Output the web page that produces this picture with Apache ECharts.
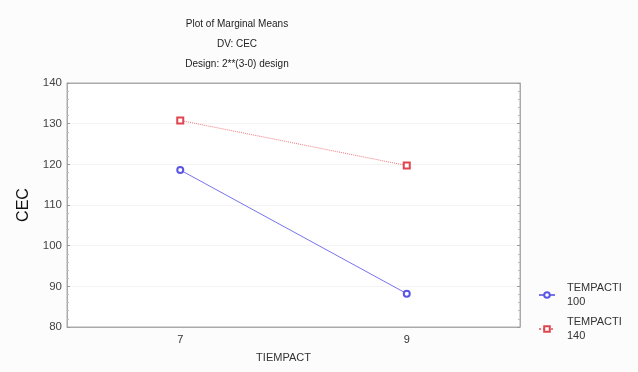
<!DOCTYPE html>
<html><head><meta charset="utf-8">
<script src="https://cdn.jsdelivr.net/npm/echarts@6/dist/echarts.min.js"></script>
<style>html,body{margin:0;padding:0;background:#fcfcfc}#c{width:638px;height:372px}</style>
</head><body><div id="c"></div>
<script>
var categories = ['7', '9'];
var seriesNames = ['TEMPACTI 100', 'TEMPACTI 140'];
var temp100 = [118.6, 88.2];
var temp140 = [130.8, 119.7];
var yTicks = [80, 90, 100, 110, 120, 130, 140];

var chart = echarts.init(document.getElementById('c'));
var font = 'Liberation Sans, Arial, sans-serif';
function t(txt, top) {
  return {text: txt, left: 232, top: top, textAlign: 'center',
    textStyle: {fontSize: 10, fontWeight: 'normal', color: '#222', fontFamily: font}};
}
chart.setOption({
  backgroundColor: '#fcfcfc',
  animation: false,
  title: [t('Plot of Marginal Means', 14), t('DV: CEC', 34), t('Design: 2**(3-0) design', 54)],
  grid: {left: 67, top: 83, width: 453, height: 244, show: true, backgroundColor: '#fff', borderColor: '#aaa', borderWidth: 1},
  legend: {
    orient: 'vertical', left: 533, top: 276, itemGap: 6, itemWidth: 16, itemHeight: 7,
    data: seriesNames,
    formatter: function (n) { return n.replace(' ', '\n'); },
    textStyle: {fontSize: 11, color: '#333', fontFamily: font, lineHeight: 14, padding: [0, 0, 0, 7]}
  },
  xAxis: [
    {type: 'category', data: categories, boundaryGap: true, position: 'bottom',
     name: 'TIEMPACT', nameLocation: 'middle', nameGap: 25,
     nameTextStyle: {fontSize: 11, color: '#333', fontFamily: font, padding: [0, 20, 0, 0]},
     axisLine: {lineStyle: {color: '#aaa'}},
     axisTick: {alignWithLabel: true, inside: true, length: 3, lineStyle: {color: '#999'}},
     axisLabel: {fontSize: 11, color: '#333', fontFamily: font, margin: 7},
     splitLine: {show: false}},
    {type: 'category', data: categories, boundaryGap: true, position: 'top',
     axisLine: {lineStyle: {color: '#aaa'}},
     axisTick: {alignWithLabel: true, inside: true, length: 3, lineStyle: {color: '#999'}},
     axisLabel: {show: false}}
  ],
  yAxis: [
    {type: 'value', min: 80, max: 140, interval: 10,
     name: 'CEC', nameLocation: 'middle', nameGap: 35, nameRotate: 90,
     nameTextStyle: {fontSize: 16, color: '#111', fontFamily: font},
     axisLine: {show: true, lineStyle: {color: '#aaa'}},
     axisTick: {show: true, inside: true, length: 3, lineStyle: {color: '#999'}},
     minorTick: {show: true, splitNumber: 5, length: 2, lineStyle: {color: '#bbb'}},
     axisLabel: {fontSize: 11.5, color: '#444', fontFamily: font, margin: 5,
       formatter: function (v) { return yTicks.indexOf(v) >= 0 ? String(v) : ''; }},
     splitLine: {show: true, lineStyle: {color: '#f4f4f4'}}},
    {type: 'value', min: 80, max: 140, interval: 10, position: 'right',
     axisLine: {show: true, lineStyle: {color: '#aaa'}},
     axisTick: {show: true, inside: true, length: 3, lineStyle: {color: '#999'}},
     minorTick: {show: true, splitNumber: 5, length: 2, lineStyle: {color: '#bbb'}},
     axisLabel: {show: false}, splitLine: {show: false}}
  ],
  series: [
    {name: seriesNames[0], type: 'line', data: temp100, symbol: 'emptyCircle', symbolSize: 6,
     itemStyle: {color: '#5a55e6', borderWidth: 1.5},
     lineStyle: {color: '#7773ee', width: 1}},
    {name: seriesNames[1], type: 'line', data: temp140, symbol: 'emptyRect', symbolSize: 6,
     itemStyle: {color: '#e0454f', borderWidth: 1.5},
     lineStyle: {color: '#f07a80', width: 1, type: 'dotted'}}
  ]
});
</script></body></html>
